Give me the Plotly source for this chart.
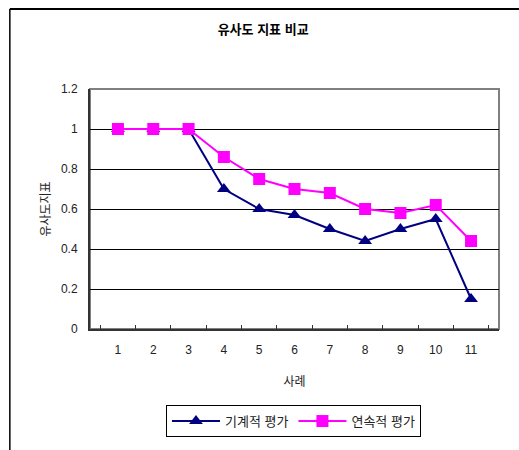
import plotly.graph_objects as go

categories = ["1", "2", "3", "4", "5", "6", "7", "8", "9", "10", "11"]
mechanical = [1.0, 1.0, 1.0, 0.70, 0.60, 0.57, 0.50, 0.44, 0.50, 0.55, 0.15]
continuous = [1.0, 1.0, 1.0, 0.86, 0.75, 0.70, 0.68, 0.60, 0.58, 0.62, 0.44]
series_names = ["기계적 평가", "연속적 평가"]
y_ticks = [0, 0.2, 0.4, 0.6, 0.8, 1.0, 1.2]
y_ticktext = ["0", "0.2", "0.4", "0.6", "0.8", "1", "1.2"]

FONT = "Liberation Sans, Noto Sans CJK KR, sans-serif"

fig = go.Figure()
fig.add_trace(go.Scatter(
    x=categories, y=mechanical, name=series_names[0], mode="lines+markers",
    line=dict(color="#000080", width=2),
    marker=dict(symbol="triangle-up", size=12, color="#000080"),
))
fig.add_trace(go.Scatter(
    x=categories, y=continuous, name=series_names[1], mode="lines+markers",
    line=dict(color="#FF00FF", width=2),
    marker=dict(symbol="square", size=12, color="#FF00FF"),
))

fig.update_layout(
    width=519, height=450,
    margin=dict(l=90, r=20, t=89, b=121, autoexpand=False),
    paper_bgcolor="white", plot_bgcolor="white",
    font=dict(family=FONT, size=12, color="#222222"),
    title=dict(text="<b>유사도 지표 비교</b>", x=0.507, xanchor="center",
               yref="container", y=0.935, yanchor="middle",
               font=dict(size=13, color="black")),
    showlegend=True,
    legend=dict(orientation="h", x=0.4975, xanchor="center", y=-0.317, yanchor="top",
                bordercolor="black", borderwidth=1, bgcolor="white",
                font=dict(size=13), itemwidth=48, tracegroupgap=0),
    shapes=[
        dict(type="line", xref="paper", yref="paper", x0=-0.196, x1=1.2, y0=1.333, y1=1.333,
             line=dict(color="black", width=2)),
        dict(type="line", xref="paper", yref="paper", x0=-0.196, x1=-0.196, y0=1.333, y1=-0.6,
             line=dict(color="black", width=1.5)),
        dict(type="rect", xref="paper", yref="paper", x0=0, x1=1, y0=0, y1=1,
             line=dict(color="#808080", width=2), layer="below"),
    ],
)

fig.update_xaxes(
    type="category", tickson="boundaries", ticks="inside", ticklen=4,
    tickcolor="#333333", showline=True, linecolor="#333333", linewidth=2,
    mirror=False, showgrid=False, automargin=False, ticklabelstandoff=9,
    title=dict(text="사례", standoff=21, font=dict(size=12)),
    tickfont=dict(size=12),
)
fig.update_yaxes(
    range=[0, 1.2], tickvals=y_ticks, ticktext=y_ticktext,
    showgrid=True, gridcolor="black", gridwidth=1,
    showline=True, linecolor="#333333", linewidth=2,
    ticks="outside", ticklen=8, tickcolor="rgba(0,0,0,0)",
    zeroline=False, automargin=False,
    title=dict(text="유사도지표", standoff=8, font=dict(size=12)),
    tickfont=dict(size=12),
)

fig.write_html("out.html", config={"displayModeBar": False},
               post_script="document.body.style.margin='0';document.body.style.overflow='hidden';")
